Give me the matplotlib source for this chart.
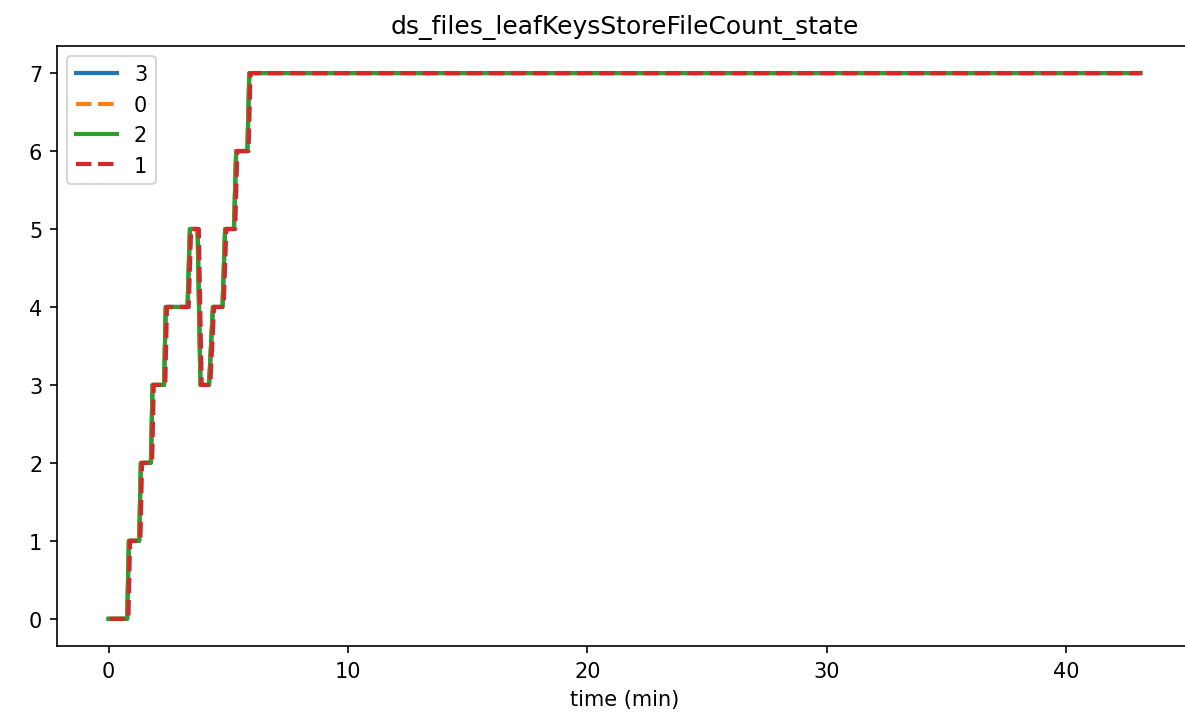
import matplotlib
matplotlib.use("Agg")
import matplotlib.pyplot as plt

# sample times (min) and file counts
times = [0.0, 0.78, 0.85, 1.28, 1.35, 1.77, 1.84, 2.32, 2.39, 3.30, 3.40,
         3.72, 3.84, 4.20, 4.36, 4.76, 4.87, 5.24, 5.33, 5.80, 5.88, 43.1]
counts = [0, 0, 1, 1, 2, 2, 3, 3, 4, 4, 5,
          5, 3, 3, 4, 4, 5, 5, 6, 6, 7, 7]

labels = ["3", "0", "2", "1"]
styles = ["-", "--", "-", "--"]
colors = ["tab:blue", "tab:orange", "tab:green", "tab:red"]
# the red series lags the others by a hair
shifts = [0.0, 0.0, 0.0, 0.05]

fig, ax = plt.subplots(figsize=(7.9, 4.793), dpi=150)
for lab, ls, c, dt in zip(labels, styles, colors, shifts):
    ax.plot([t + dt for t in times], counts, ls, color=c, lw=2, label=lab)

ax.set_xlabel("time (min)")
ax.set_title("ds_files_leafKeysStoreFileCount_state")
ax.legend(loc="upper left")
# the original is cropped just inside the right spine
fig.subplots_adjust(left=0.048, right=1.007, top=0.935, bottom=0.100)
fig.savefig("out.png", dpi=150)
